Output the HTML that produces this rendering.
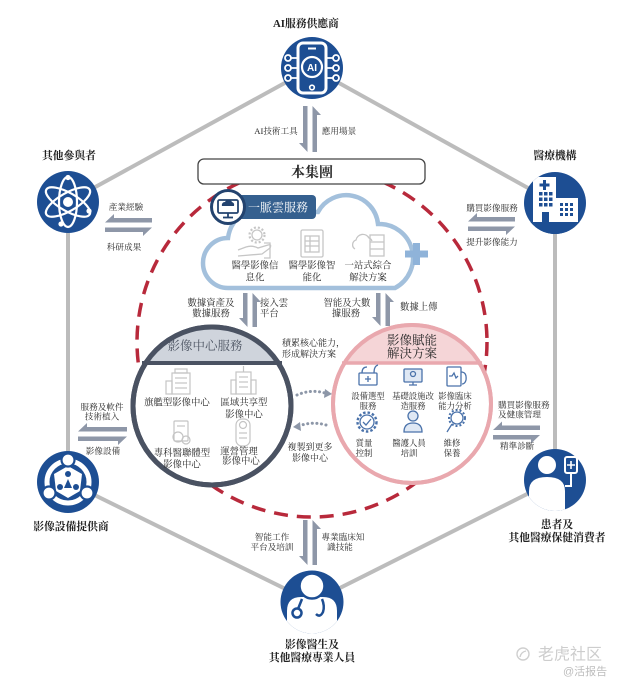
<!DOCTYPE html>
<html><head><meta charset="utf-8">
<style>
html,body{margin:0;padding:0;background:#fff;}
svg{display:block;}
text{font-family:"Liberation Serif","Noto Serif CJK SC",serif;fill:#2a2a2a;}
.nl{font-size:10.8px;font-weight:bold;fill:#222;text-anchor:middle;}
.sm{font-size:8.6px;text-anchor:middle;fill:#2a2a2a;}
.md{font-size:9.4px;text-anchor:middle;fill:#2a2a2a;}
.rc{font-size:8.4px;text-anchor:middle;fill:#2a2a2a;}
</style></head><body>
<svg width="617" height="690" viewBox="0 0 617 690" xmlns="http://www.w3.org/2000/svg">
<defs>
<clipPath id="cH"><circle cx="555" cy="203" r="31"/></clipPath>
<clipPath id="cP"><circle cx="555" cy="480" r="31"/></clipPath>
<clipPath id="cD"><circle cx="312" cy="602" r="31.5"/></clipPath>
</defs>

<!-- hexagon -->
<g stroke="#bcbcbc" stroke-width="4" fill="none">
<line x1="312" y1="68" x2="68" y2="202"/>
<line x1="312" y1="68" x2="555" y2="203"/>
<line x1="68" y1="202" x2="68" y2="482"/>
<line x1="555" y1="203" x2="555" y2="480"/>
<line x1="68" y1="482" x2="312" y2="602"/>
<line x1="555" y1="480" x2="312" y2="602"/>
</g>

<!-- red dashed circle -->
<circle cx="312" cy="342" r="175" fill="none" stroke="#b8293b" stroke-width="3.5" stroke-dasharray="14 9"/>

<!-- group box -->
<rect x="198" y="159" width="227" height="25" rx="6" fill="#fff" stroke="#444" stroke-width="1.3"/>
<text x="312" y="177" font-size="14" font-weight="bold" text-anchor="middle" fill="#222">本集團</text>

<!-- cloud -->
<path d="M228,288 A25,25 0 0 1 228,238 Q230,222 245,212 L318,212 A32,32 0 0 1 378,224 A34,34 0 0 1 395,288 Z" fill="#fff" stroke="#a3c0dc" stroke-width="4.5"/>
<g fill="#8fb3d9">
<rect x="405" y="250.5" width="23" height="7"/>
<rect x="413" y="243" width="7" height="22"/>
</g>
<!-- banner -->
<rect x="236" y="195" width="80" height="24" rx="4" fill="#35608f"/>
<text x="278" y="211.5" font-size="12" fill="#fff" text-anchor="middle" style="fill:#fff">一脈雲服務</text>
<circle cx="228" cy="207" r="16.5" fill="#fff" stroke="#23436f" stroke-width="3"/>
<rect x="218" y="200" width="20" height="13" rx="1.5" fill="none" stroke="#23436f" stroke-width="1.8"/>
<line x1="228" y1="213" x2="228" y2="217" stroke="#23436f" stroke-width="1.8"/>
<line x1="223" y1="217.5" x2="233" y2="217.5" stroke="#23436f" stroke-width="1.8"/>
<path d="M222,206 a3,3 0 0 1 3,-4 a4,4 0 0 1 7,0 a3,3 0 0 1 2,4 Z" fill="#23436f"/>

<!-- cloud icons -->
<g fill="none" stroke="#c6c6c6" stroke-width="1.3">
<circle cx="257" cy="235" r="5"/>
<circle cx="257" cy="235" r="7.5" stroke-dasharray="2 2" stroke-width="2.2"/>
<path d="M238,250 L246,247 Q252,245 258,248 L268,245 Q272,244 270,248 L262,254 L238,256"/>
<path d="M264,243 L270,243 L270,258 L264,258"/>
<rect x="301" y="230" width="22" height="27" rx="1.5"/>
<rect x="305" y="236" width="14" height="16"/>
<line x1="305" y1="241" x2="319" y2="241"/><line x1="305" y1="246" x2="319" y2="246"/>
<line x1="310" y1="236" x2="310" y2="252"/>
<path d="M355,249 a5,5 0 0 1 1,-9 a7,7 0 0 1 13,-2 a5,5 0 0 1 3,3"/>
<rect x="370" y="235" width="14" height="21"/>
<line x1="370" y1="242" x2="384" y2="242"/><line x1="370" y1="249" x2="384" y2="249"/>
</g>
<text class="md" x="255" y="268.5">醫學影像信</text>
<text class="md" x="255" y="280.5">息化</text>
<text class="md" x="312" y="268.5">醫學影像智</text>
<text class="md" x="312" y="280.5">能化</text>
<text class="md" x="368" y="268.5">一站式綜合</text>
<text class="md" x="368" y="280.5">解決方案</text>

<!-- vertical arrows -->
<g fill="#8e97a8">
<polygon points="303,106 307.5,106 307.5,152 299,143 303,143"/>
<polygon points="312.5,152 312.5,106 321,115 317,115 317,152"/>
<polygon points="243,293 247.5,293 247.5,327 239,318 243,318"/>
<polygon points="252.5,327 252.5,293 261,302 257,302 257,327"/>
<polygon points="376,293 380.5,293 380.5,326 372,317 376,317"/>
<polygon points="385.5,326 385.5,293 394,302 390,302 390,326"/>
<polygon points="303,520 307.5,520 307.5,565 299,556 303,556"/>
<polygon points="312.5,565 312.5,520 321,529 317,529 317,565"/>
</g>

<!-- horizontal arrows -->
<g fill="#8e97a8">
<polygon points="152,218 152,222.5 105,222.5 114,214 114,218"/>
<polygon points="105,227.5 152,227.5 143,236 143,232 105,232"/>
<polygon points="515,217 515,221.5 468,221.5 477,213 477,217"/>
<polygon points="468,226.5 515,226.5 506,235 506,231 468,231"/>
<polygon points="127,427 127,431.5 78,431.5 87,423 87,427"/>
<polygon points="78,436.5 127,436.5 118,445 118,441 78,441"/>
<polygon points="540,425.5 540,430 493,430 502,421.5 502,425.5"/>
<polygon points="493,435 540,435 531,443.5 531,439.5 493,439.5"/>
</g>

<!-- arrow labels -->
<text class="sm" x="276" y="134">AI技術工具</text>
<text class="sm" x="339" y="134">應用場景</text>
<text class="sm" x="126" y="210">產業經驗</text>
<text class="sm" x="124" y="250">科研成果</text>
<text class="sm" x="492" y="211">購買影像服務</text>
<text class="sm" x="492" y="245">提升影像能力</text>
<text class="sm" x="102" y="410">服務及軟件</text>
<text class="sm" x="102" y="419.5">技術植入</text>
<text class="sm" x="103" y="454">影像設備</text>
<text class="sm" x="498" y="408" style="text-anchor:start">購買影像服務</text>
<text class="sm" x="498" y="417.5" style="text-anchor:start">及健康管理</text>
<text class="sm" x="500" y="449" style="text-anchor:start">精準診斷</text>
<text class="sm" x="272" y="540">智能工作</text>
<text class="sm" x="272" y="550">平台及培訓</text>
<text class="sm" x="343" y="540">專業臨床知</text>
<text class="sm" x="340" y="550">識技能</text>

<text class="md" x="211" y="306">數據資產及</text>
<text class="md" x="211" y="316.5">數據服務</text>
<text class="md" x="260" y="306" style="text-anchor:start">接入雲</text>
<text class="md" x="260" y="316.5" style="text-anchor:start">平台</text>
<text class="md" x="347" y="306">智能及大數</text>
<text class="md" x="346" y="316.5">據服務</text>
<text class="md" x="400" y="310" style="text-anchor:start">數據上傳</text>

<!-- left circle -->
<circle cx="212" cy="406" r="79" fill="#fff" stroke="#4a5262" stroke-width="5"/>
<path d="M145.7,363 A79,79 0 0 1 278.3,363 Z" fill="#cfd4dc"/>
<line x1="142" y1="363" x2="282" y2="363" stroke="#4a5262" stroke-width="4"/>
<circle cx="212" cy="406" r="79" fill="none" stroke="#4a5262" stroke-width="5"/>
<text x="205" y="350" font-size="12.5" text-anchor="middle" style="fill:#4e5664">影像中心服務</text>
<g fill="none" stroke="#c4c4c4" stroke-width="1.2">
<rect x="172" y="373" width="18" height="21"/>
<rect x="166" y="381" width="6" height="13"/>
<rect x="175" y="369" width="12" height="4"/>
<line x1="175" y1="378" x2="187" y2="378"/><line x1="175" y1="383" x2="187" y2="383"/><line x1="175" y1="388" x2="187" y2="388"/>
<rect x="236" y="372" width="15" height="22"/>
<rect x="231" y="380" width="5" height="14"/><rect x="251" y="380" width="5" height="14"/>
<line x1="243.5" y1="366" x2="243.5" y2="372"/>
<line x1="239" y1="377" x2="248" y2="377"/><line x1="239" y1="382" x2="248" y2="382"/><line x1="239" y1="387" x2="248" y2="387"/>
<rect x="174" y="421" width="14" height="20" rx="1"/>
<circle cx="178" cy="437" r="5"/><circle cx="186" cy="440" r="4"/>
<line x1="177" y1="426" x2="185" y2="426"/>
<rect x="236" y="419" width="14" height="27" rx="6"/>
<circle cx="243" cy="425" r="3.5"/>
<line x1="239" y1="433" x2="247" y2="433"/><line x1="239" y1="438" x2="247" y2="438"/>
</g>
<text class="md" x="177" y="405.5">旗艦型影像中心</text>
<text class="md" x="244" y="405.5">區域共享型</text>
<text class="md" x="244" y="417.5">影像中心</text>
<text class="md" x="182" y="456">專科醫聯體型</text>
<text class="md" x="182" y="467.5">影像中心</text>
<text class="md" x="239" y="454.5">運營管理</text>
<text class="md" x="241" y="464">影像中心</text>

<!-- right circle -->
<circle cx="412" cy="404" r="79" fill="#fff" stroke="#e9a8ae" stroke-width="4"/>
<path d="M344.5,363 A79,79 0 0 1 479.5,363 Z" fill="#f5d5d7"/>
<line x1="342" y1="363" x2="482" y2="363" stroke="#e9a8ae" stroke-width="3.5"/>
<circle cx="412" cy="404" r="79" fill="none" stroke="#e9a8ae" stroke-width="4"/>
<text x="412" y="344.5" font-size="12.5" text-anchor="middle" fill="#333">影像賦能</text>
<text x="412" y="357.5" font-size="12.5" text-anchor="middle" fill="#333">解決方案</text>
<g fill="none" stroke="#4a72aa" stroke-width="1.3">
<rect x="359" y="373" width="18" height="12" rx="1"/>
<path d="M365,379 h6 M368,376 v6"/>
<path d="M362,373 q0,-6 5,-6 M374,373 q0,-7 4,-8"/>
<rect x="404" y="369" width="18" height="13" rx="1" fill="#dfe8f4"/>
<path d="M409,385 h8 M413,382 v3"/>
<circle cx="413" cy="374" r="2.5"/>
<rect x="447" y="367" width="14" height="19" rx="1"/>
<path d="M449,376 l3,0 l2,-3 l2,5 l2,-2"/>
<path d="M461,372 q6,0 5,8 q-1,4 -4,4"/>
<circle cx="367" cy="422" r="7"/>
<circle cx="367" cy="422" r="9.5" stroke-dasharray="2.5 2" stroke-width="2.4"/>
<path d="M363,422 l3,3 l5,-6"/>
<circle cx="413" cy="416" r="5" fill="#dfe8f4"/>
<path d="M404,432 q0,-9 9,-9 q9,0 9,9 Z" fill="#dfe8f4"/>
<circle cx="457" cy="418" r="6"/>
<circle cx="457" cy="418" r="8" stroke-dasharray="2 2" stroke-width="2"/>
<path d="M452,424 l-5,8"/>
</g>
<text class="rc" x="368" y="399">設備選型</text>
<text class="rc" x="368" y="409">服務</text>
<text class="rc" x="413" y="399">基礎設施改</text>
<text class="rc" x="413" y="409">造服務</text>
<text class="rc" x="455" y="399">影像臨床</text>
<text class="rc" x="455" y="409">能力分析</text>
<text class="rc" x="364" y="446">質量</text>
<text class="rc" x="364" y="456">控制</text>
<text class="rc" x="409" y="446">醫護人員</text>
<text class="rc" x="409" y="456">培訓</text>
<text class="rc" x="452" y="446">維修</text>
<text class="rc" x="452" y="456">保養</text>

<!-- middle texts -->
<text class="sm" x="282" y="346" style="text-anchor:start;font-size:9px">積累核心能力，</text>
<text class="sm" x="282" y="357" style="text-anchor:start;font-size:9px">形成解決方案</text>
<text class="sm" x="310" y="450" style="font-size:9px">複製到更多</text>
<text class="sm" x="310" y="461" style="font-size:9px">影像中心</text>

<!-- dotted arrows -->
<path d="M297,395 Q311,389 325,393" fill="none" stroke="#8d97a8" stroke-width="3" stroke-dasharray="0.1 4.5" stroke-linecap="round"/>
<polygon points="325,389 332,394 324,398" fill="#8d97a8"/>
<path d="M326,425 Q312,421 299,426" fill="none" stroke="#8d97a8" stroke-width="3" stroke-dasharray="0.1 4.5" stroke-linecap="round"/>
<polygon points="300,422 293,427 301,431" fill="#8d97a8"/>

<!-- AI icon -->
<circle cx="312" cy="68" r="31" fill="#1d4e93"/>
<rect x="298" y="43" width="28" height="50" rx="5" fill="none" stroke="#fff" stroke-width="3"/>
<line x1="308" y1="48.5" x2="316" y2="48.5" stroke="#fff" stroke-width="2"/>
<circle cx="312" cy="87.5" r="2.3" fill="none" stroke="#fff" stroke-width="1.6"/>
<circle cx="312" cy="67" r="10" fill="none" stroke="#fff" stroke-width="2.2"/>
<text x="312" y="71" font-size="10" font-weight="bold" text-anchor="middle" style="fill:#fff;font-family:'Liberation Sans',sans-serif">AI</text>
<g fill="none" stroke="#fff" stroke-width="1.8">
<circle cx="288" cy="58" r="3"/><circle cx="288" cy="68" r="3"/><circle cx="288" cy="78" r="3"/>
<circle cx="336" cy="58" r="3"/><circle cx="336" cy="68" r="3"/><circle cx="336" cy="78" r="3"/>
<path d="M291,58 h7 M291,68 h7 M291,78 h7 M333,58 h-7 M333,68 h-7 M333,78 h-7"/>
</g>
<text class="nl" x="306" y="27">AI服務供應商</text>

<!-- atom icon -->
<circle cx="68" cy="202" r="31" fill="#1d4e93"/>
<g fill="none" stroke="#fff" stroke-width="2.2">
<ellipse cx="68" cy="202" rx="25" ry="9" transform="rotate(30 68 202)"/>
<ellipse cx="68" cy="202" rx="25" ry="9" transform="rotate(-30 68 202)"/>
<ellipse cx="68" cy="202" rx="25" ry="9" transform="rotate(90 68 202)"/>
</g>
<circle cx="68" cy="202" r="5" fill="#fff"/>
<circle cx="68" cy="177.5" r="2.6" fill="#fff"/>
<circle cx="89" cy="211" r="2.6" fill="#fff"/>
<circle cx="61" cy="224" r="2.6" fill="#fff"/>
<text class="nl" x="69" y="159">其他參與者</text>

<!-- hospital icon -->
<circle cx="555" cy="203" r="31" fill="#1d4e93"/>
<g clip-path="url(#cH)">
<rect x="533" y="177" width="23" height="50" fill="#fff"/>
<rect x="556" y="198" width="22" height="29" fill="#fff"/>
<rect x="524" y="222" width="62" height="15" fill="#1d4e93"/>
</g>
<g fill="#1d4e93">
<rect x="543" y="180" width="3" height="10"/><rect x="539.5" y="183.5" width="10" height="3"/>
<rect x="539" y="192" width="3.5" height="3.5"/><rect x="544" y="192" width="3.5" height="3.5"/><rect x="549" y="192" width="3.5" height="3.5"/>
<rect x="539" y="197.5" width="3.5" height="3.5"/><rect x="544" y="197.5" width="3.5" height="3.5"/><rect x="549" y="197.5" width="3.5" height="3.5"/>
<rect x="539" y="203" width="3.5" height="3.5"/><rect x="544" y="203" width="3.5" height="3.5"/><rect x="549" y="203" width="3.5" height="3.5"/>
<rect x="542" y="212" width="7" height="10"/>
<rect x="560" y="203" width="3" height="3"/><rect x="565" y="203" width="3" height="3"/><rect x="570" y="203" width="3" height="3"/>
<rect x="560" y="208" width="3" height="3"/><rect x="565" y="208" width="3" height="3"/><rect x="570" y="208" width="3" height="3"/>
<rect x="560" y="213" width="3" height="3"/><rect x="565" y="213" width="3" height="3"/><rect x="570" y="213" width="3" height="3"/>
</g>
<text class="nl" x="555" y="159">醫療機構</text>

<!-- equipment icon -->
<circle cx="68" cy="482" r="31" fill="#1d4e93"/>
<circle cx="68" cy="482" r="21" fill="none" stroke="#fff" stroke-width="5"/>
<path d="M68,466 L82,474 L80,491 L68,498 L56,491 L54,474 Z" fill="#fff"/>
<g fill="#1d4e93">
<circle cx="68" cy="474" r="3"/><circle cx="60" cy="487" r="3"/><circle cx="76" cy="487" r="3"/>
<path d="M68,479 L64,488 L72,488 Z"/>
</g>
<g fill="#fff" stroke="#1d4e93" stroke-width="2.2">
<circle cx="68" cy="460" r="6.5"/><circle cx="49" cy="493" r="6.5"/><circle cx="87" cy="493" r="6.5"/>
</g>
<text class="nl" x="71" y="530">影像設備提供商</text>

<!-- patient icon -->
<circle cx="555" cy="480" r="31" fill="#1d4e93"/>
<g clip-path="url(#cP)">
<path d="M529,515 L529,491 Q529,477 547,477 Q565,477 565,491 L565,515 Z" fill="#fff"/>
</g>
<circle cx="547" cy="465" r="10" fill="#fff" stroke="#1d4e93" stroke-width="2"/>
<rect x="565" y="457" width="12" height="16" rx="2" fill="#1d4e93" stroke="#fff" stroke-width="2"/>
<path d="M571,461 v8 M567,465 h8" stroke="#fff" stroke-width="1.6"/>
<path d="M571,473 v13 h-6" fill="none" stroke="#fff" stroke-width="2"/>
<text class="nl" x="557" y="528">患者及</text>
<text class="nl" x="557" y="541">其他醫療保健消費者</text>

<!-- doctor icon -->
<circle cx="312" cy="602" r="31.5" fill="#1d4e93"/>
<g clip-path="url(#cD)">
<path d="M287,640 L287,611 Q287,597 301,597 L323,597 Q337,597 337,611 L337,640 Z" fill="#fff"/>
</g>
<circle cx="312" cy="586" r="12.5" fill="#fff" stroke="#1d4e93" stroke-width="2.5"/>
<g fill="none" stroke="#1d4e93" stroke-width="2.5">
<path d="M302,599 L298,609"/>
<circle cx="297" cy="613" r="4.5"/>
<path d="M322,599 Q325,606 323,612 Q320,618 316,614"/>
</g>
<text class="nl" x="312" y="648">影像醫生及</text>
<text class="nl" x="312" y="661">其他醫療專業人員</text>

<!-- watermark -->
<circle cx="523" cy="654" r="6" fill="none" stroke="#cfcfcf" stroke-width="1.4"/>
<path d="M520,657 Q521,652 526,651" fill="none" stroke="#cfcfcf" stroke-width="1.4"/>
<text x="538" y="659.5" font-size="16" style="fill:#cdcdcd;font-family:'Liberation Sans','Noto Sans CJK SC',sans-serif">老虎社区</text>
<text x="563" y="675" font-size="11" style="fill:#bdbdbd;font-family:'Liberation Sans','Noto Sans CJK SC',sans-serif">@活报告</text>
</svg>
</body></html>
